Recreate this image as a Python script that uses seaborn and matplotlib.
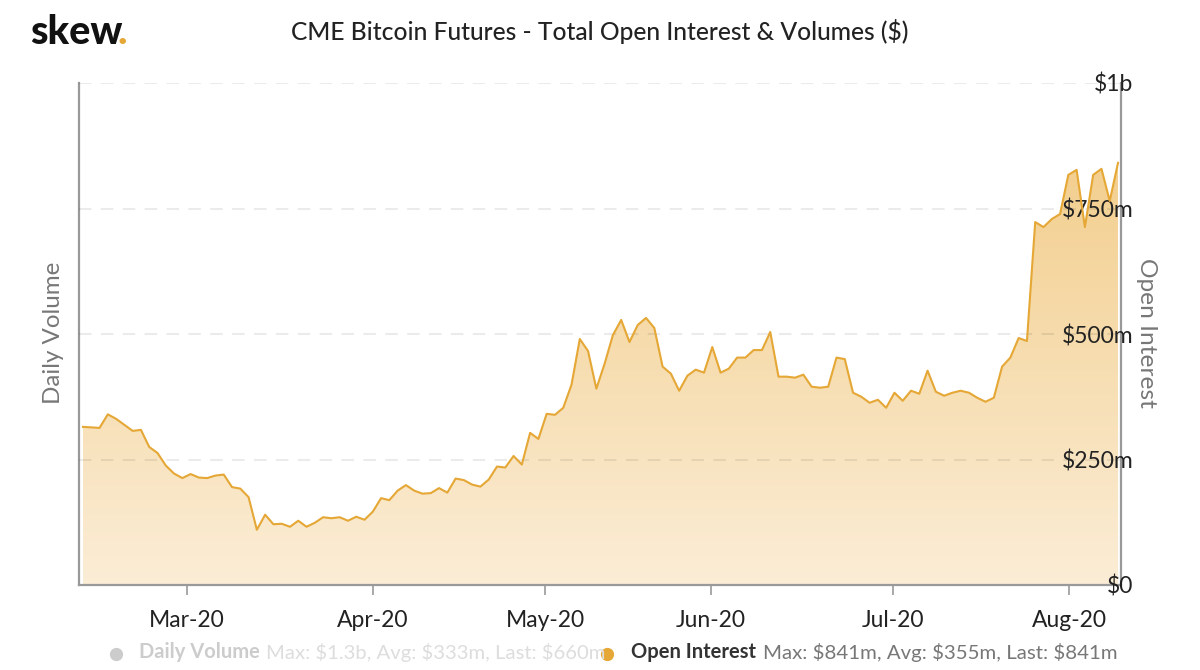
# libraries
import numpy as np
import pandas as pd
import matplotlib.pyplot as plt
import seaborn as sns
from matplotlib.colors import LinearSegmentedColormap
from matplotlib.lines import Line2D

# ==========================================
# Settings and data
# ==========================================
# open interest in $m, one value per business day
OPEN_INTEREST = [
    315, 314, 313, 340, 331, 319, 307, 309, 275, 263, 238, 222, 213, 221, 214, 213, 218, 220, 195, 192,
    175, 110, 140, 121, 122, 116, 128, 116, 124, 135, 133, 135, 128, 136, 130, 146, 173, 169, 188, 199,
    188, 182, 183, 193, 184, 212, 209, 200, 196, 210, 236, 234, 257, 240, 303, 291, 341, 339, 353, 399,
    490, 466, 391, 441, 498, 528, 484, 518, 532, 512, 435, 421, 387, 417, 429, 423, 474, 423, 431, 453,
    453, 468, 468, 504, 415, 415, 413, 419, 395, 393, 395, 453, 450, 383, 375, 363, 369, 353, 383, 367,
    387, 381, 427, 385, 377, 383, 387, 383, 373, 365, 373, 435, 453, 492, 486, 723, 713, 729, 739, 817,
    827, 713, 817, 829, 765, 841
]

MONTH_LABELS = ["Mar-20", "Apr-20", "May-20", "Jun-20", "Jul-20", "Aug-20"]
MONTH_TICKS = [12.55, 35.0, 55.8, 75.8, 97.8, 119.1]
VALUE_TICKS = [0, 250, 500, 750, 1000]
VALUE_LABELS = ["$0", "$250m", "$500m", "$750m", "$1b"]

ORANGE = "#E5A735"
AXIS_GREY = "#999999"
WIDTH, HEIGHT = 1200, 670

plt.rcParams["font.family"] = ["Lato", "DejaVu Sans"]

df = pd.DataFrame({"day": np.arange(len(OPEN_INTEREST)), "oi": OPEN_INTEREST})

# ==========================================
# Open interest with gradient area
# ==========================================
plt.figure(figsize=(12, 6.7), dpi=100)
ax = plt.axes([79 / WIDTH, (HEIGHT - 585) / HEIGHT, 1042 / WIDTH, 502 / HEIGHT])

area = plt.fill_between(df["day"], df["oi"], 0, color="none", linewidth=0)
fill_cmap = LinearSegmentedColormap.from_list("oi_fill", ["#FBEDD6", "#F3CF8F"])
gradient = plt.imshow(np.linspace(1, 0, 256).reshape(-1, 1), cmap=fill_cmap, aspect="auto",
                      extent=(0, len(OPEN_INTEREST) - 1, 0, 841), zorder=1)
gradient.set_clip_path(area.get_paths()[0], transform=ax.transData)

sns.lineplot(data=df, x="day", y="oi", color=ORANGE, linewidth=1.5, zorder=3, ax=ax)

plt.xlim(-0.48, 125.36)
plt.ylim(0, 1000)
plt.grid(True, axis="y", color="#000000", alpha=0.08, linestyle=(0, (6, 4.5)), linewidth=1.5, zorder=2)
ax.set_axisbelow(False)

plt.xticks(MONTH_TICKS, MONTH_LABELS, fontsize=16.5, color="#222222")
plt.yticks(VALUE_TICKS, VALUE_LABELS, fontsize=16.5, color="#222222")
ax.yaxis.tick_right()
ax.yaxis.get_gridlines()[0].set_visible(False)  # the axis line sits there
plt.tick_params(axis="x", length=7, width=1.2, color=AXIS_GREY, pad=11)
plt.tick_params(axis="y", length=0, pad=9)
for label in ax.get_yticklabels():
    label.set_horizontalalignment("right")

plt.xlabel("")
plt.ylabel("")
ax.spines["top"].set_visible(False)
for side in ["left", "right", "bottom"]:
    ax.spines[side].set_color(AXIS_GREY)
    ax.spines[side].set_linewidth(1.6)

# ==========================================
# Title, logo and axis names
# ==========================================
fig = plt.gcf()
fig.text(600 / WIDTH, 1 - 31 / HEIGHT, "CME Bitcoin Futures - Total Open Interest & Volumes ($)",
         ha="center", va="center", fontsize=17.7, color="#222222", fontweight="medium")
fig.text(30 / WIDTH, 1 - 44 / HEIGHT, "skew", ha="left", va="baseline", fontsize=28.5,
         fontweight="black", color="#111111")
fig.text(117.5 / WIDTH, 1 - 44 / HEIGHT, ".", ha="left", va="baseline", fontsize=28.5,
         fontweight="black", color=ORANGE)

fig.text(53 / WIDTH, 1 - 333 / HEIGHT, "Daily Volume", rotation=90, ha="center", va="center",
         fontsize=17.4, color="#777777")
fig.text(1147 / WIDTH, 1 - 333 / HEIGHT, "Open Interest", rotation=270, ha="center", va="center",
         fontsize=17.6, color="#777777")

# ==========================================
# Legend row
# ==========================================
fig.add_artist(Line2D([116 / WIDTH], [1 - 654 / HEIGHT], marker="o", markersize=8.5, color="#CCCCCC"))
fig.add_artist(Line2D([607 / WIDTH], [1 - 654 / HEIGHT], marker="o", markersize=8.5, color=ORANGE))

legend_y = 1 - 652 / HEIGHT
fig.text(139 / WIDTH, legend_y, "Daily Volume", ha="left", va="center", fontsize=14.5,
         fontweight="bold", color="#CCCCCC")
fig.text(266 / WIDTH, legend_y, "Max: $1.3b, Avg: $333m, Last: $660m", ha="left", va="center",
         fontsize=14.6, color="#DDDDDD")
fig.text(631 / WIDTH, legend_y, "Open Interest", ha="left", va="center", fontsize=14.5,
         fontweight="bold", color="#333333")
fig.text(763 / WIDTH, legend_y, "Max: $841m, Avg: $355m, Last: $841m", ha="left", va="center",
         fontsize=14.65, color="#777777")

plt.savefig("out.png", dpi=100)
